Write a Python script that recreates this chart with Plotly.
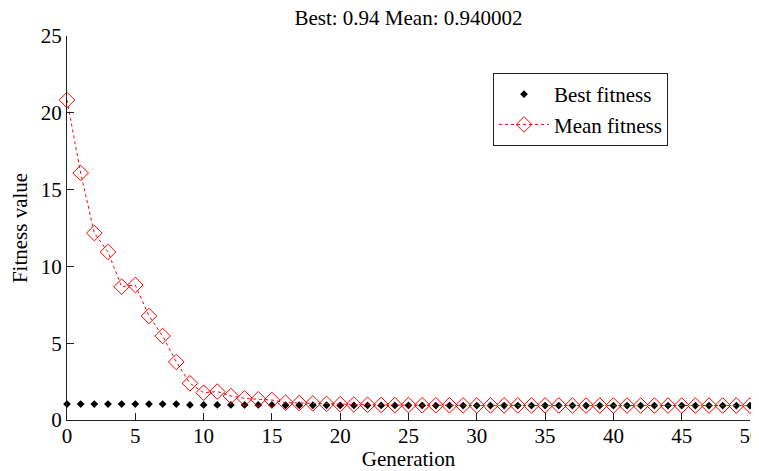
import plotly.graph_objects as go

generation = list(range(0, 51))
best_fitness = [1.04, 1.04, 1.04, 1.04, 1.04, 1.04, 1.04, 1.04, 1.04, 0.98,
                0.98, 0.98, 0.98, 0.98, 0.98, 0.98, 0.96, 0.96, 0.96, 0.96,
                0.95, 0.95, 0.95, 0.95, 0.95, 0.95, 0.95, 0.94, 0.94, 0.94,
                0.94, 0.94, 0.94, 0.94, 0.94, 0.94, 0.94, 0.94, 0.94, 0.94,
                0.94, 0.94, 0.94, 0.94, 0.94, 0.94, 0.94, 0.94, 0.94, 0.94, 0.94]
mean_fitness = [20.83, 16.08, 12.17, 10.94, 8.68, 8.79, 6.77, 5.47, 3.78, 2.39,
                1.78, 1.85, 1.56, 1.41, 1.35, 1.30, 1.13, 1.10, 1.08, 1.05,
                1.03, 1.01, 0.99, 0.98, 0.97, 0.97, 0.96, 0.96, 0.96, 0.95,
                0.95, 0.95, 0.95, 0.95, 0.95, 0.95, 0.95, 0.94, 0.94, 0.94,
                0.94, 0.94, 0.94, 0.94, 0.94, 0.94, 0.94, 0.94, 0.94, 0.94, 0.94]
x_ticks = [0, 5, 10, 15, 20, 25, 30, 35, 40, 45, 50]
y_ticks = [0, 5, 10, 15, 20, 25]
title_text = "Best: 0.94 Mean: 0.940002"

FONT = "Liberation Serif, Times New Roman, serif"
FS = 21

# the page body has an 8px margin, so the figure is drawn 8px right/down
W, H = 751, 463
L, T, PR, PB = 59, 28, 742, 412

fig = go.Figure()
fig.add_trace(go.Scatter(
    x=generation, y=best_fitness, mode="markers", name="Best fitness",
    marker=dict(symbol="diamond", size=6, color="black"),
    cliponaxis=False,
))
fig.add_trace(go.Scatter(
    x=generation, y=mean_fitness, mode="lines+markers", name="Mean fitness",
    line=dict(color="red", width=1, dash="3px,3px"),
    marker=dict(symbol="diamond-open", size=12, color="red", line=dict(width=1, color="red")),
    cliponaxis=False,
))

fig.update_layout(
    width=W, height=H, autosize=False,
    margin=dict(l=L, r=W - PR, t=T, b=H - PB, autoexpand=False),
    paper_bgcolor="white", plot_bgcolor="white",
    font=dict(family=FONT, size=FS, color="black"),
    title=dict(text=title_text, x=(L + PR) / 2 / W, xanchor="center",
               y=1 - 2 / H, yanchor="top", yref="container", pad=dict(t=0, b=0),
               font=dict(family=FONT, size=FS, color="black")),
    showlegend=True,
    legend=dict(x=(485 - L) / (PR - L), y=(PB - 65) / (PB - T), xanchor="left", yanchor="top",
                bordercolor="#222222", borderwidth=1, bgcolor="white",
                font=dict(family=FONT, size=FS), tracegroupgap=0,
                itemwidth=50),
)
fig.update_xaxes(
    range=[0, 50], tickvals=x_ticks, ticks="inside", ticklen=7, tickcolor="#222222",
    showline=True, linecolor="#222222", linewidth=1, showgrid=False, zeroline=False,
    automargin=False, ticklabeloverflow="allow", ticklabelstandoff=-3,
    title=dict(text="Generation", standoff=0, font=dict(family=FONT, size=FS)),
    tickfont=dict(family=FONT, size=FS),
)
fig.update_yaxes(
    range=[0, 25], tickvals=y_ticks, ticks="inside", ticklen=7, tickcolor="#222222",
    showline=True, linecolor="#222222", linewidth=1, showgrid=False, zeroline=False,
    automargin=False, ticklabeloverflow="allow",
    title=dict(text="Fitness value", standoff=8, font=dict(family=FONT, size=FS)),
    tickfont=dict(family=FONT, size=FS),
)

fig.write_html("out.html")
